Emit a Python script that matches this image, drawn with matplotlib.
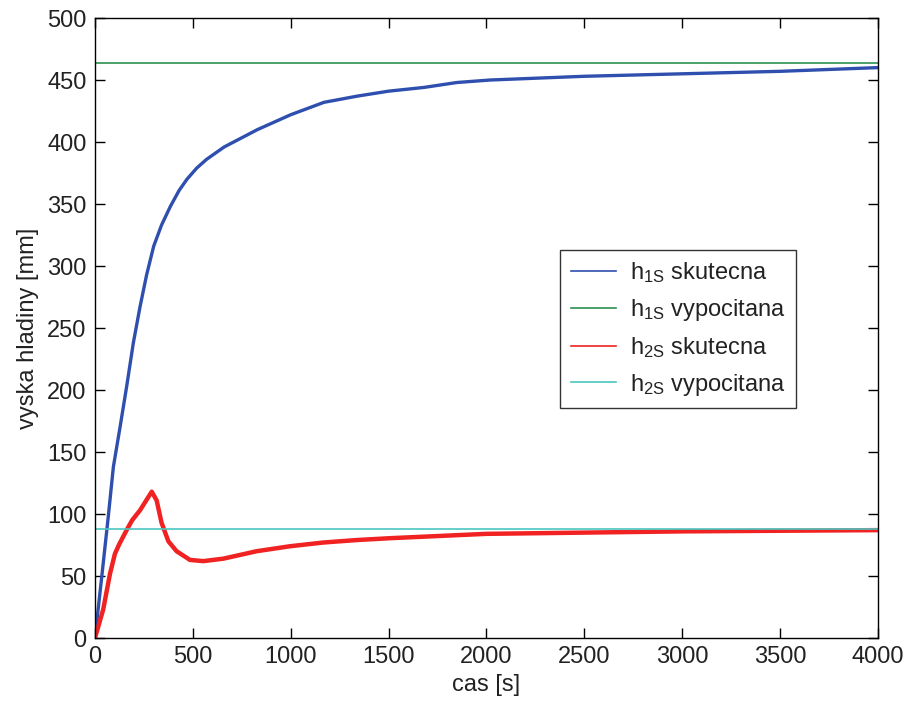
import matplotlib
matplotlib.use('Agg')
import matplotlib.pyplot as plt
import numpy as np

plt.rcParams['font.family'] = ['Liberation Sans', 'DejaVu Sans']
plt.rcParams['mathtext.default'] = 'regular'

t_h1 = [0, 35, 68, 94, 128, 162, 196, 230, 264, 300, 340, 385, 430, 470, 520,
        570, 660, 830, 1000, 1170, 1340, 1500, 1680, 1850, 2020, 2500, 3000,
        3500, 4000]
h1 = [0, 50, 98, 138, 170, 203, 238, 267, 293, 316, 333, 348, 361, 370, 379,
      386, 396, 410, 422, 432, 437, 441, 444, 448, 450, 453, 455, 457, 460]

# h2S skutecna (measured level of tank 2)
t_h2 = [0, 42, 77, 102, 125, 145, 165, 190, 230, 290, 315, 340, 375, 417, 485,
        553, 656, 826, 996, 1166, 1337, 1507, 2000, 2500, 3000, 3500, 4000]
h2 = [0, 23, 52, 68, 76, 82, 88, 95, 103, 118, 111, 93, 78, 70, 63,
      62, 64, 70, 74, 77, 79, 80.5, 84, 85, 86, 86.5, 87]

# computed steady state levels
h1_calc = 463.5
h2_calc = 88

fig = plt.figure(figsize=(9.08, 7.06), dpi=100)
ax = fig.add_axes([0.1046, 0.0963, 0.8623, 0.8782])

ax.plot(t_h1, h1, color='#2f4fae', lw=2.4, label=r'h$_{1S}$ skutecna')
ax.axhline(h1_calc, color='#2e9150', lw=1.2, label=r'h$_{1S}$ vypocitana')
ax.plot(t_h2, h2, color='#f02222', lw=3.2, label=r'h$_{2S}$ skutecna')
ax.axhline(h2_calc, color='#4cc6c0', lw=1.2, label=r'h$_{2S}$ vypocitana')

ax.set_xlim(0, 4000)
ax.set_ylim(0, 500)
ax.set_xticks(np.arange(0, 4001, 500))
ax.set_yticks(np.arange(0, 501, 50))
ax.tick_params(direction='in', length=7, width=1, labelsize=17,
               top=True, right=True, pad=6, labelcolor='#222222')
for s in ax.spines.values():
    s.set_linewidth(1)

ax.set_xlabel('cas [s]', fontsize=17, labelpad=4, color='#222222')
ax.set_ylabel('vyska hladiny [mm]', fontsize=17, labelpad=6, color='#222222')

leg = ax.legend(loc='upper left', bbox_to_anchor=(0.594, 0.626), fontsize=17,
                frameon=True, fancybox=False, edgecolor='black',
                handlelength=1.9, borderpad=0.45, labelspacing=0.5,
                handletextpad=0.6, borderaxespad=0)
leg.get_frame().set_linewidth(1)
for txt in leg.get_texts():
    txt.set_color('#222222')
# legend lines are thin in the reference
for ln in leg.get_lines():
    ln.set_linewidth(1.2)

fig.savefig('out.png', dpi=100)
